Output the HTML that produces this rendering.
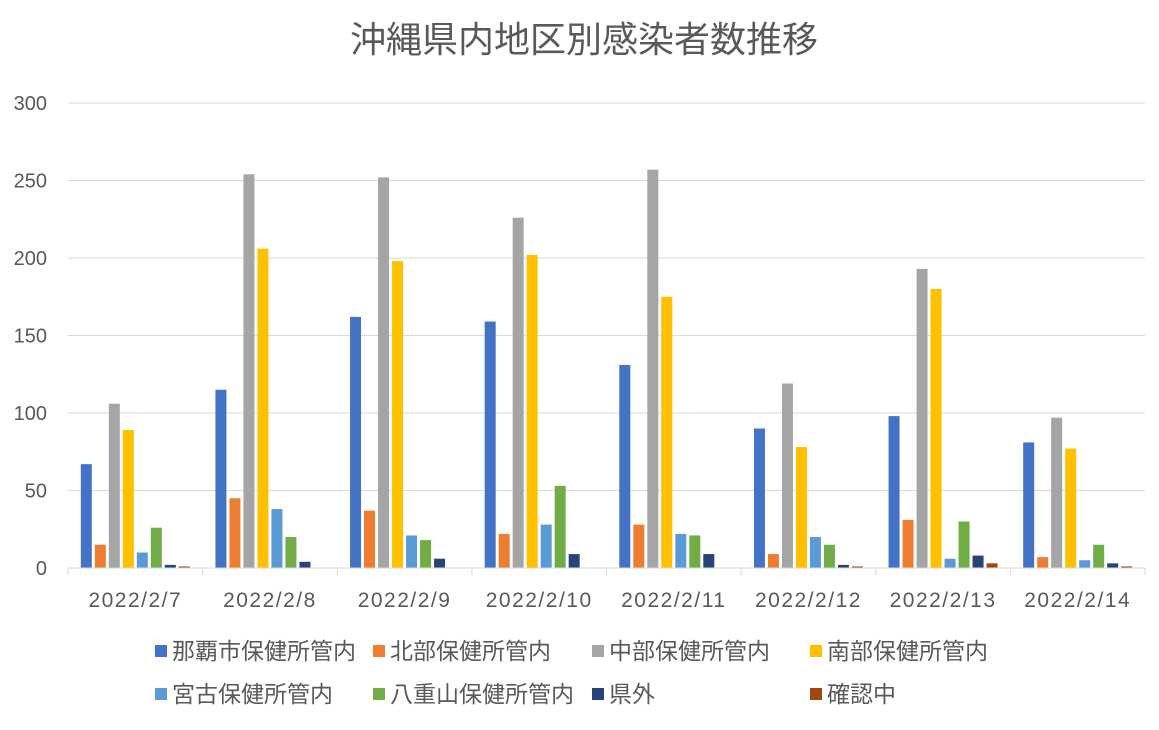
<!DOCTYPE html>
<html><head><meta charset="utf-8"><style>
body{margin:0;background:#fff;}
svg text{font-family:"Liberation Sans","Noto Sans CJK JP",sans-serif;}
</style></head><body>
<svg id="c" width="1159" height="725" xmlns="http://www.w3.org/2000/svg">
<rect width="1159" height="725" fill="#fff"/>
<text x="584" y="52" text-anchor="middle" font-size="36" fill="#595959">沖縄県内地区別感染者数推移</text>
<g id="grid"></g><g id="bars"></g><g id="axes"></g><g id="legend"></g>
</svg>
<script>
const categories=["2022/2/7","2022/2/8","2022/2/9","2022/2/10","2022/2/11","2022/2/12","2022/2/13","2022/2/14"];
const seriesNames=["那覇市保健所管内","北部保健所管内","中部保健所管内","南部保健所管内","宮古保健所管内","八重山保健所管内","県外","確認中"];
const naha=[67,115,162,159,131,90,98,81];
const hokubu=[15,45,37,22,28,9,31,7];
const chubu=[106,254,252,226,257,119,193,97];
const nanbu=[89,206,198,202,175,78,180,77];
const miyako=[10,38,21,28,22,20,6,5];
const yaeyama=[26,20,18,53,21,15,30,15];
const kengai=[2,4,6,9,9,2,8,3];
const kakunin=[1,0,0,0,0,1,3,1];
const yTicks=[0,50,100,150,200,250,300];
const series=[naha,hokubu,chubu,nanbu,miyako,yaeyama,kengai,kakunin];
const colors=["#4472C4","#ED7D31","#A5A5A5","#FFC000","#5B9BD5","#70AD47","#264478","#9E480E"];
const NS="http://www.w3.org/2000/svg";
const x0=68,x1=1145,y0=568,yTop=103,yMax=300;
const y=v=>y0-(v/yMax)*(y0-yTop);
const cw=(x1-x0)/categories.length;
function mk(t,a,p){const e=document.createElementNS(NS,t);for(const k in a)e.setAttribute(k,a[k]);p.appendChild(e);return e;}
const G=document.getElementById('grid'),B=document.getElementById('bars'),A=document.getElementById('axes'),L=document.getElementById('legend');
yTicks.forEach(t=>{
 if(t>0){const l=mk('line',{x1:x0,x2:x1,y1:y(t),y2:y(t),stroke:'#d9d9d9','stroke-width':1},G);
 }
 const tx=mk('text',{x:47,y:y(t)+7,'text-anchor':'end','font-size':20,fill:'#595959'},A);tx.textContent=t;
 
});
const ax=mk('line',{x1:x0,x2:x1,y1:y0,y2:y0,stroke:'#d9d9d9','stroke-width':1},A);

for(let i=0;i<=categories.length;i++){const tk=mk('line',{x1:x0+i*cw,x2:x0+i*cw,y1:y0,y2:y0+7,stroke:'#d9d9d9'},A);
 }
const bw=11,step=14;
categories.forEach((c,i)=>{
 const cx=x0+i*cw+cw/2;
 const tx=mk('text',{x:cx,y:607,'text-anchor':'middle','font-size':21,'letter-spacing':1.5,fill:'#595959'},A);tx.textContent=c;
 
 series.forEach((s,j)=>{
  const bx=cx-(series.length*step)/2+j*step+1.5;
  const r=mk('rect',{x:bx,y:y(s[i]),width:bw,height:y0-y(s[i]),fill:colors[j]},B);
  
 });
});
const lx=[155,373,592,810];
seriesNames.forEach((n,j)=>{
 const gx=lx[j%4],gy=j<4?651:694;
 const g=mk('g',{},L);
 mk('rect',{x:gx,y:gy-6,width:12,height:12,fill:colors[j]},g);
 const t=mk('text',{x:gx+17,y:gy+8,'font-size':23,fill:'#595959'},g);t.textContent=n;
});
</script>
</body></html>
